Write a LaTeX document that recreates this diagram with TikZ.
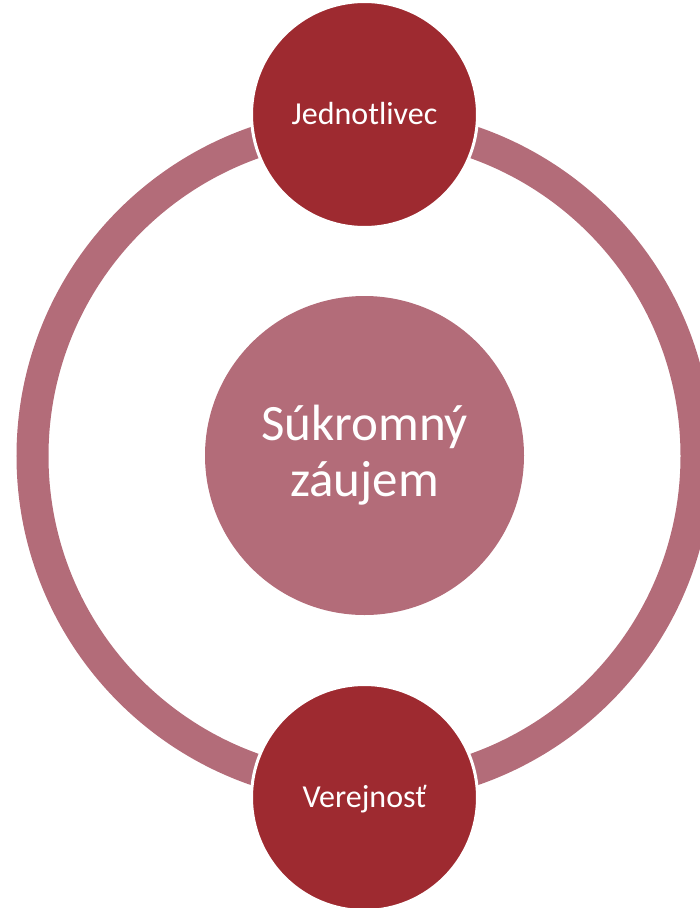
\documentclass[tikz,border=0pt]{standalone}
\usepackage{fontspec}
\setmainfont{Carlito}
\definecolor{ringcol}{RGB}{179,108,121}
\definecolor{darkcol}{RGB}{158,42,48}
\begin{document}
\begin{tikzpicture}[x=1pt,y=-1pt,
  outer/.style={circle, fill=darkcol, draw=white, line width=3pt, inner sep=0pt,
    minimum size=226pt, text=white, font=\fontsize{32}{38}\selectfont,
    text height=22pt, text depth=3pt},
  inner/.style={circle, fill=ringcol, inner sep=0pt, minimum size=319pt,
    text=white, align=center, font=\fontsize{51}{56}\selectfont}]
\useasboundingbox (0,0) rectangle (700,908);
\coordinate (c) at (364.5,456);
\draw[ringcol, line width=32pt] (c) circle (332pt);
\node[inner] (mid) at (364.5,455.5) {Súkromný\\záujem};
\node[outer] (top) at (364.5,114.5) {Jednotlivec};
\node[outer] (bot) at (364.5,797.5) {Verejnosť};
\end{tikzpicture}
\end{document}
